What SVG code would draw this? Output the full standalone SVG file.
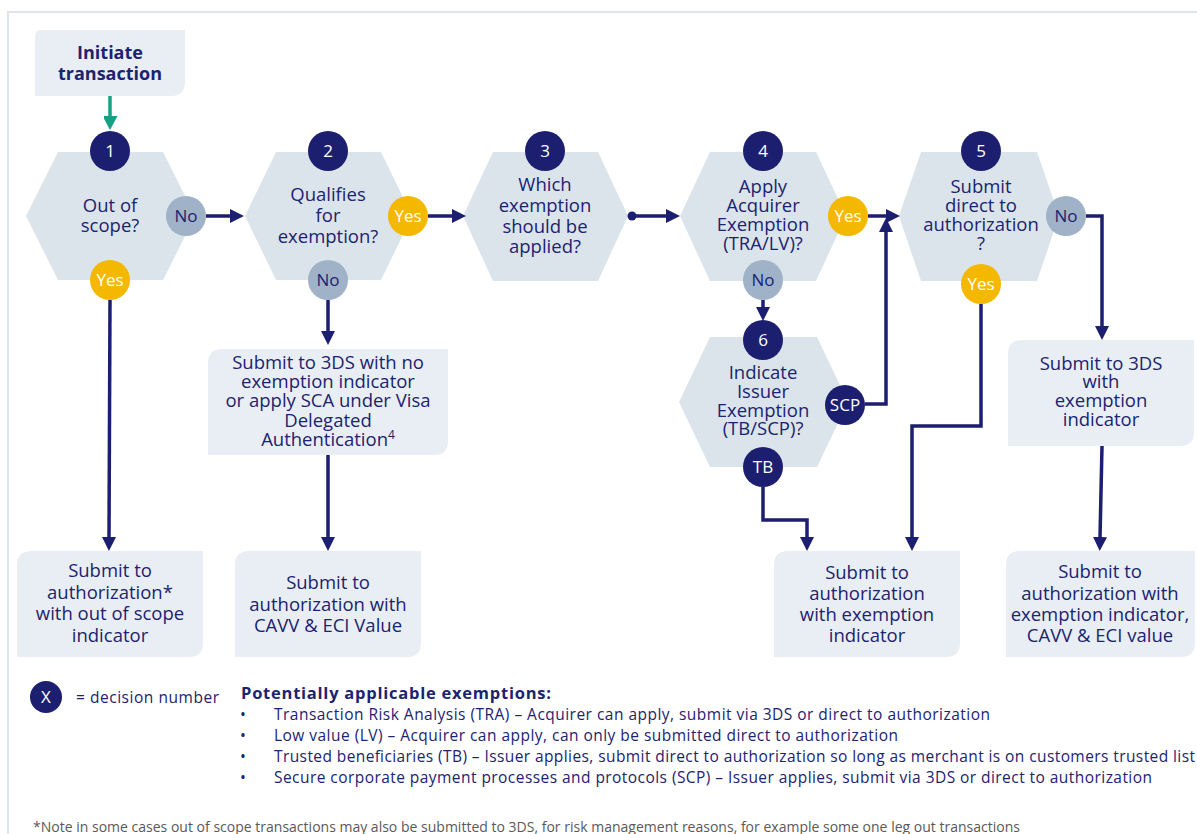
<svg xmlns="http://www.w3.org/2000/svg" width="1197" height="834" viewBox="0 0 1197 834">
  <defs>
    <marker id="arrow" markerUnits="userSpaceOnUse" markerWidth="14" markerHeight="14" refX="1" refY="7" orient="auto">
      <path d="M0,0 L14,7 L0,14 z" fill="#1c1f6f"/>
    </marker>
    <marker id="arrow-green" markerUnits="userSpaceOnUse" markerWidth="15" markerHeight="14" refX="1" refY="7.5" orient="auto">
      <path d="M0,0 L14,7.5 L0,15 z" fill="#17a083"/>
    </marker>
    <style>
      text { font-family: "Open Sans", "Noto Sans", "Liberation Sans", sans-serif; fill: #1c2370; }
      .hex { fill: #dbe3eb; }
      .box { fill: #e9eef4; }
      .lbl { font-size: 18.5px; text-anchor: middle; }
      .num { fill: #1c1f6f; }
      .num-t { font-size: 17px; fill: #ffffff; text-anchor: middle; }
      .no { fill: #9fb2c8; }
      .no-t { font-size: 17px; fill: #1c2370; text-anchor: middle; }
      .yes { fill: #f5b800; }
      .yes-t { font-size: 17px; fill: #ffffff; text-anchor: middle; }
      .conn { fill: none; stroke: #1c1f6f; stroke-width: 3.5; marker-end: url(#arrow); }
      .legend { font-size: 15.5px; }
      .note { font-size: 14px; fill: #595959; }
    </style>
  </defs>

  <!-- page frame -->
  <path d="M8,834 V12 H1197" fill="none" stroke="#dde4ec" stroke-width="2"/>

  <!-- start -->
  <g id="start">
    <path class="box" d="M41,30 H185 V82 Q185,96 171,96 H35 V36 Q35,30 41,30 z"/>
    <text x="110" y="59" text-anchor="middle" font-size="18px" font-weight="bold">Initiate</text>
    <text x="110" y="80" text-anchor="middle" font-size="18px" font-weight="bold">transaction</text>
  </g>

  <!-- decision 1 -->
  <g id="d1">
    <polygon class="hex" points="26,216 58,152 163,152 195,216 163,280 58,280"/>
    <text class="lbl" x="110" y="212">Out of</text>
    <text class="lbl" x="110" y="232">scope?</text>
    <circle class="num" cx="110" cy="151" r="20"/><text class="num-t" x="110" y="157">1</text>
    <circle class="no" cx="186" cy="216" r="20"/><text class="no-t" x="186" y="222">No</text>
    <circle class="yes" cx="110" cy="280" r="20"/><text class="yes-t" x="110" y="286">Yes</text>
  </g>

  <!-- decision 2 -->
  <g id="d2">
    <polygon class="hex" points="245,216 276,152 381,152 412,216 381,280 276,280"/>
    <text class="lbl" x="328" y="201">Qualifies</text>
    <text class="lbl" x="328" y="222">for</text>
    <text class="lbl" x="328" y="243">exemption?</text>
    <circle class="num" cx="328" cy="151" r="20"/><text class="num-t" x="328" y="157">2</text>
    <circle class="yes" cx="408" cy="216" r="20"/><text class="yes-t" x="408" y="222">Yes</text>
    <circle class="no" cx="328" cy="280" r="20"/><text class="no-t" x="328" y="286">No</text>
  </g>

  <!-- decision 3 -->
  <g id="d3">
    <polygon class="hex" points="463,216 493,152 598,152 628,216 598,281 493,281"/>
    <text class="lbl" x="545" y="191">Which</text>
    <text class="lbl" x="545" y="212">exemption</text>
    <text class="lbl" x="545" y="233">should be</text>
    <text class="lbl" x="545" y="253">applied?</text>
    <circle class="num" cx="545" cy="151" r="20"/><text class="num-t" x="545" y="157">3</text>
  </g>

  <!-- decision 4 -->
  <g id="d4">
    <polygon class="hex" points="680,216 710,152 816,152 846,216 816,281 710,281"/>
    <text class="lbl" x="763" y="193">Apply</text>
    <text class="lbl" x="763" y="212">Acquirer</text>
    <text class="lbl" x="763" y="231">Exemption</text>
    <text class="lbl" x="763" y="250">(TRA/LV)?</text>
    <circle class="num" cx="763" cy="151" r="20"/><text class="num-t" x="763" y="157">4</text>
    <circle class="yes" cx="848" cy="216" r="20"/><text class="yes-t" x="848" y="222">Yes</text>
    <circle class="no" cx="763" cy="280" r="20"/><text class="no-t" x="763" y="286">No</text>
  </g>

  <!-- decision 5 -->
  <g id="d5">
    <polygon class="hex" points="899,216 921,152 1037,152 1059,216 1037,281 921,281"/>
    <text class="lbl" x="981" y="193">Submit</text>
    <text class="lbl" x="981" y="212">direct to</text>
    <text class="lbl" x="981" y="231">authorization</text>
    <text class="lbl" x="981" y="250">?</text>
    <circle class="num" cx="981" cy="151" r="20"/><text class="num-t" x="981" y="157">5</text>
    <circle class="no" cx="1066" cy="216" r="20"/><text class="no-t" x="1066" y="222">No</text>
    <circle class="yes" cx="981" cy="284" r="20"/><text class="yes-t" x="981" y="290">Yes</text>
  </g>

  <!-- decision 6 -->
  <g id="d6">
    <polygon class="hex" points="679,402 710,337 817,337 848,402 817,467 710,467"/>
    <text class="lbl" x="763" y="379">Indicate</text>
    <text class="lbl" x="763" y="398">Issuer</text>
    <text class="lbl" x="763" y="417">Exemption</text>
    <text class="lbl" x="763" y="435">(TB/SCP)?</text>
    <circle class="num" cx="763" cy="340" r="20"/><text class="num-t" x="763" y="346">6</text>
    <circle class="num" cx="845" cy="405" r="20"/><text class="num-t" x="845" y="411">SCP</text>
    <circle class="num" cx="763" cy="467" r="20"/><text class="num-t" x="763" y="473">TB</text>
  </g>

  <!-- outcome boxes -->
  <g id="no-exemption">
    <path class="box" d="M222,349 H448 V441 Q448,455 434,455 H208 V363 Q208,349 222,349 z"/>
    <text class="lbl" x="328" y="369">Submit to 3DS with no</text>
    <text class="lbl" x="328" y="388">exemption indicator</text>
    <text class="lbl" x="328" y="407">or apply SCA under Visa</text>
    <text class="lbl" x="328" y="427">Delegated</text>
    <text class="lbl" x="328" y="446">Authentication<tspan font-size="12px" dy="-7">4</tspan></text>
  </g>

  <g id="3ds-exemption">
    <path class="box" d="M1022,340 H1194 V432 Q1194,446 1180,446 H1008 V354 Q1008,340 1022,340 z"/>
    <text class="lbl" x="1101" y="370">Submit to 3DS</text>
    <text class="lbl" x="1101" y="388">with</text>
    <text class="lbl" x="1101" y="407">exemption</text>
    <text class="lbl" x="1101" y="426">indicator</text>
  </g>

  <g id="out-of-scope">
    <path class="box" d="M31,551 H203 V643 Q203,657 189,657 H17 V565 Q17,551 31,551 z"/>
    <text class="lbl" x="110" y="577">Submit to</text>
    <text class="lbl" x="110" y="599">authorization*</text>
    <text class="lbl" x="110" y="620">with out of scope</text>
    <text class="lbl" x="110" y="642">indicator</text>
  </g>

  <g id="auth-cavv">
    <path class="box" d="M249,551 H421 V643 Q421,657 407,657 H235 V565 Q235,551 249,551 z"/>
    <text class="lbl" x="328" y="589">Submit to</text>
    <text class="lbl" x="328" y="611">authorization with</text>
    <text class="lbl" x="328" y="632">CAVV &amp; ECI Value</text>
  </g>

  <g id="auth-exemption">
    <path class="box" d="M788,551 H960 V643 Q960,657 946,657 H774 V565 Q774,551 788,551 z"/>
    <text class="lbl" x="867" y="579">Submit to</text>
    <text class="lbl" x="867" y="600">authorization</text>
    <text class="lbl" x="867" y="621">with exemption</text>
    <text class="lbl" x="867" y="642">indicator</text>
  </g>

  <g id="auth-exemption-cavv">
    <path class="box" d="M1020,551 H1195 V643 Q1195,657 1181,657 H1006 V565 Q1006,551 1020,551 z"/>
    <text class="lbl" x="1100" y="578">Submit to</text>
    <text class="lbl" x="1100" y="600">authorization with</text>
    <text class="lbl" x="1100" y="621">exemption indicator,</text>
    <text class="lbl" x="1100" y="642">CAVV &amp; ECI value</text>
  </g>

  <!-- connectors -->
  <g id="connectors">
    <path d="M110,96 V117" fill="none" stroke="#17a083" stroke-width="3.5" marker-end="url(#arrow-green)"/>
    <path class="conn" d="M206,216 H231"/>
    <path class="conn" d="M428,216 H453"/>
    <circle cx="632" cy="216" r="4.5" fill="#1c1f6f"/>
    <path class="conn" d="M632,216 H667"/>
    <path class="conn" d="M868,216 H887"/>
    <path class="conn" d="M1086,216 H1102 V327"/>
    <path class="conn" d="M1102,446 L1100,538"/>
    <path class="conn" d="M981,304 V426 H912 V538"/>
    <path class="conn" d="M763,300 V308"/>
    <path class="conn" d="M865,404 H886 V231"/>
    <path class="conn" d="M763,487 V520 H807 V538"/>
    <path class="conn" d="M110,300 L109,538"/>
    <path class="conn" d="M328,300 V332"/>
    <path class="conn" d="M328,455 V538"/>
  </g>

  <!-- legend -->
  <g id="legend">
    <circle class="num" cx="46" cy="697" r="16"/>
    <text class="num-t" x="46" y="703">X</text>
    <text class="legend" x="76" y="703" textLength="143">= decision number</text>
    <text x="241" y="699" font-size="16.5px" font-weight="bold" textLength="310">Potentially applicable exemptions:</text>
    <text class="legend" x="240" y="720">•</text>
    <text class="legend" x="274" y="720" textLength="716">Transaction Risk Analysis (TRA) – Acquirer can apply, submit via 3DS or direct to authorization</text>
    <text class="legend" x="240" y="741">•</text>
    <text class="legend" x="274" y="741" textLength="624">Low value (LV) – Acquirer can apply, can only be submitted direct to authorization</text>
    <text class="legend" x="240" y="762">•</text>
    <text class="legend" x="274" y="762" textLength="921">Trusted beneficiaries (TB) – Issuer applies, submit direct to authorization so long as merchant is on customers trusted list</text>
    <text class="legend" x="240" y="783">•</text>
    <text class="legend" x="274" y="783" textLength="878">Secure corporate payment processes and protocols (SCP) – Issuer applies, submit via 3DS or direct to authorization</text>
    <text class="note" x="33" y="832" textLength="987">*Note in some cases out of scope transactions may also be submitted to 3DS, for risk management reasons, for example some one leg out transactions</text>
  </g>
</svg>
